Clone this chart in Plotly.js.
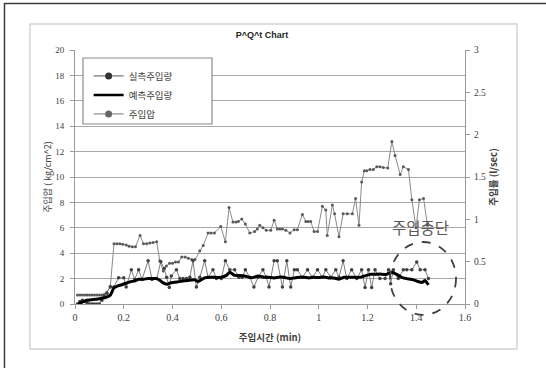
<!DOCTYPE html>
<html>
<head>
<meta charset="utf-8">
<script src="https://cdn.plot.ly/plotly-3.0.1.min.js"></script>
<style>
  html, body { margin: 0; padding: 0; background: #ffffff; }
  #chart { width: 546px; height: 368px; }
</style>
</head>
<body>
<div id="chart"></div>
<script>
// ---- Data ----
// Injection pressure (left axis, kg/cm^2)
const pressureTime = [0.01,0.02,0.03,0.04,0.05,0.06,0.07,0.08,0.09,0.10,0.11,0.12,0.13,0.145,0.16,0.172,0.184,0.196,0.21,0.222,0.235,0.248,0.267,0.281,0.294,0.307,0.32,0.335,0.348,0.362,0.375,0.388,0.40,0.412,0.424,0.438,0.452,0.465,0.479,0.492,0.512,0.526,0.546,0.558,0.572,0.598,0.617,0.632,0.648,0.66,0.67,0.684,0.699,0.717,0.737,0.748,0.758,0.771,0.785,0.803,0.817,0.83,0.84,0.851,0.865,0.882,0.899,0.912,0.933,0.947,0.957,0.967,0.981,0.995,1.015,1.029,1.035,1.056,1.065,1.083,1.10,1.117,1.138,1.151,1.165,1.176,1.187,1.197,1.21,1.224,1.238,1.251,1.265,1.283,1.30,1.313,1.334,1.347,1.368,1.382,1.399,1.413,1.43,1.446];
const pressure = [0.7,0.7,0.7,0.7,0.7,0.7,0.7,0.7,0.7,0.7,0.7,0.75,0.9,1.4,4.75,4.75,4.75,4.7,4.65,4.55,4.5,4.5,5.4,4.75,4.75,4.8,4.85,4.9,3.4,2.6,3.0,3.2,3.2,3.3,3.3,3.7,3.7,3.6,3.5,3.5,4.2,4.6,5.6,5.6,5.6,6.1,4.9,7.6,6.45,6.45,6.5,6.7,6.3,5.6,5.7,5.9,6.2,6.0,5.8,5.8,6.6,5.9,5.9,5.9,5.8,5.6,5.85,5.85,7.05,6.5,6.5,6.5,5.7,5.7,7.7,7.4,5.4,7.8,7.1,5.3,7.1,7.1,7.1,8.3,6.2,9.6,10.5,10.5,10.6,10.6,10.8,10.8,10.75,10.7,12.8,11.7,10.2,10.8,10.6,8.2,6.0,8.2,8.3,6.2];

// Measured injection rate (right axis, l/sec)
const flowTime = [0.01,0.02,0.03,0.04,0.05,0.06,0.07,0.08,0.09,0.10,0.11,0.12,0.131,0.145,0.159,0.179,0.20,0.21,0.231,0.245,0.261,0.275,0.30,0.316,0.335,0.352,0.366,0.376,0.387,0.395,0.416,0.43,0.443,0.457,0.471,0.484,0.498,0.512,0.532,0.546,0.566,0.58,0.60,0.617,0.635,0.655,0.672,0.686,0.699,0.717,0.734,0.751,0.771,0.785,0.796,0.817,0.83,0.851,0.869,0.885,0.90,0.912,0.933,0.954,0.974,0.995,1.015,1.029,1.049,1.07,1.083,1.10,1.115,1.135,1.156,1.176,1.19,1.204,1.217,1.231,1.251,1.272,1.286,1.295,1.306,1.326,1.347,1.361,1.382,1.402,1.416,1.436,1.45];
const flowMeasured = [0,0.03,0.045,0.03,0.015,0,0,0,0,0,0.045,0.09,0.128,0.2,0.2,0.31,0.31,0.2,0.405,0.29,0.405,0.29,0.51,0.29,0.3,0.5,0.42,0.315,0.195,0.33,0.405,0.3,0.3,0.3,0.315,0.51,0.2,0.315,0.51,0.315,0.405,0.3,0.3,0.51,0.405,0.405,0.315,0.315,0.405,0.315,0.2,0.315,0.405,0.315,0.2,0.51,0.51,0.2,0.51,0.2,0.405,0.405,0.315,0.405,0.315,0.405,0.315,0.405,0.315,0.405,0.315,0.51,0.3,0.405,0.3,0.405,0.195,0.405,0.195,0.405,0.3,0.3,0.405,0.24,0.405,0.3,0.405,0.405,0.405,0.495,0.405,0.405,0.3];

// Predicted injection rate (right axis, l/sec)
const predTime = [0.012,0.03,0.048,0.075,0.10,0.124,0.145,0.159,0.178,0.19,0.212,0.227,0.246,0.261,0.28,0.301,0.316,0.335,0.349,0.36,0.378,0.39,0.409,0.436,0.464,0.491,0.505,0.532,0.559,0.60,0.621,0.635,0.655,0.676,0.697,0.724,0.751,0.776,0.792,0.817,0.84,0.858,0.88,0.899,0.92,0.94,0.96,0.981,1.0,1.022,1.04,1.063,1.083,1.104,1.128,1.145,1.169,1.186,1.21,1.23,1.25,1.278,1.30,1.319,1.34,1.361,1.388,1.41,1.425,1.436,1.45];
const flowPredicted = [0,0.023,0.045,0.053,0.063,0.075,0.105,0.188,0.218,0.225,0.248,0.263,0.273,0.293,0.293,0.3,0.3,0.3,0.278,0.252,0.233,0.248,0.258,0.27,0.278,0.285,0.266,0.309,0.315,0.315,0.338,0.375,0.338,0.338,0.33,0.309,0.33,0.315,0.315,0.308,0.318,0.315,0.3,0.308,0.315,0.315,0.308,0.315,0.312,0.318,0.308,0.308,0.293,0.315,0.315,0.315,0.315,0.33,0.35,0.35,0.353,0.35,0.375,0.35,0.315,0.3,0.285,0.263,0.255,0.278,0.225];

const seriesNames = ['실측주입량', '예측주입량', '주입압'];

// ---- Styling ----
const CJK = 'Noto Sans CJK KR, Noto Sans, sans-serif';
const NUM = 'Liberation Serif, DejaVu Serif, serif';
const axisGray = '#9a9a9a';

const traces = [
  // real data traces
  { x: pressureTime, y: pressure, yaxis: 'y', type: 'scatter', mode: 'lines+markers',
    line: { color: '#8a8a8a', width: 1 }, marker: { color: '#5a5a5a', size: 3 },
    name: seriesNames[2], showlegend: false },
  { x: flowTime, y: flowMeasured, yaxis: 'y2', type: 'scatter', mode: 'lines+markers',
    line: { color: '#7f7f7f', width: 1 }, marker: { color: '#404040', size: 3.5 },
    name: seriesNames[0], showlegend: false },
  { x: predTime, y: flowPredicted, yaxis: 'y2', type: 'scatter', mode: 'lines',
    line: { color: '#000000', width: 3, shape: 'spline', smoothing: 0.4 },
    name: seriesNames[1], showlegend: false },
  // legend entries
  { x: [null], y: [null], type: 'scatter', mode: 'lines+markers', name: seriesNames[0],
    line: { color: '#555555', width: 1 }, marker: { color: '#333333', size: 7 } },
  { x: [null], y: [null], type: 'scatter', mode: 'lines', name: seriesNames[1],
    line: { color: '#000000', width: 2.5 } },
  { x: [null], y: [null], type: 'scatter', mode: 'lines+markers', name: seriesNames[2],
    line: { color: '#777777', width: 1 }, marker: { color: '#666666', size: 7 } }
];

const layout = {
  width: 546, height: 368,
  margin: { l: 75, r: 81, t: 50, b: 64, pad: 0 },
  paper_bgcolor: '#ffffff', plot_bgcolor: '#ffffff',
  font: { family: NUM, size: 10, color: '#404040' },
  title: { text: '<b>P^Q^t Chart</b>', font: { family: 'Liberation Sans, Arial, sans-serif', size: 9, color: '#262626' },
           x: 0.48, xref: 'container', xanchor: 'center', y: 0.905, yref: 'container', yanchor: 'middle' },
  xaxis: {
    range: [0, 1.6], dtick: 0.2, tick0: 0, showgrid: false, zeroline: false,
    showline: true, linecolor: axisGray, linewidth: 1,
    ticks: 'outside', ticklen: 4, tickcolor: axisGray,
    tickfont: { family: NUM, size: 10, color: '#404040' },
    title: { text: '<b>주입시간 (min)</b>', font: { family: CJK, size: 9.5, color: '#404040' }, standoff: 12 }
  },
  yaxis: {
    range: [0, 20], dtick: 2, tick0: 0, showgrid: true, gridcolor: '#a8a8a8', gridwidth: 1,
    zeroline: false, showline: true, linecolor: axisGray, linewidth: 1,
    ticks: 'outside', ticklen: 4, tickcolor: axisGray, ticklabelstandoff: 4,
    tickfont: { family: NUM, size: 9, color: '#404040' },
    title: { text: '주입압 ( kg/cm^2)', font: { family: CJK, size: 9, color: '#3a3a3a' }, standoff: 2 }
  },
  yaxis2: {
    overlaying: 'y', side: 'right', range: [0, 3], dtick: 0.5, tick0: 0,
    showgrid: false, zeroline: false, showline: true, linecolor: axisGray, linewidth: 1,
    ticks: 'outside', ticklen: 4, tickcolor: axisGray, ticklabelstandoff: 2,
    tickfont: { family: NUM, size: 9.5, color: '#404040' },
    title: { text: '<b>주입률 (l/sec)</b>', font: { family: CJK, size: 9.5, color: '#404040' }, standoff: 5 }
  },
  showlegend: true,
  legend: {
    x: 0.035, y: 0.955, xanchor: 'left', yanchor: 'top',
    bgcolor: 'rgba(0,0,0,0)', borderwidth: 0,
    font: { family: CJK, size: 9.5, color: '#404040' },
    tracegroupgap: 0
  },
  shapes: [
    // outer frame (top and left edges visible)
    { type: 'rect', xref: 'paper', yref: 'paper', x0: -0.1808, x1: 1.25, y0: -0.3, y1: 1.183,
      line: { color: '#3c3c3c', width: 1.5 }, fillcolor: 'rgba(0,0,0,0)', layer: 'below' },
    // chart area frame
    { type: 'rect', xref: 'paper', yref: 'paper', x0: -0.1154, x1: 1.1333, y0: -0.177, y1: 1.1024,
      line: { color: '#d4d4d4', width: 1.5 }, fillcolor: 'rgba(0,0,0,0)', layer: 'below' },
    // legend box
    { type: 'rect', xref: 'paper', yref: 'paper', x0: 0.0205, x1: 0.3513, y0: 0.7087, y1: 0.9685,
      line: { color: '#8a8a8a', width: 1.2 }, fillcolor: '#ffffff', layer: 'above' },
    // dashed circle marking the stop
    { type: 'circle', xref: 'paper', yref: 'paper', x0: 0.808, x1: 0.977, y0: -0.043, y1: 0.244,
      line: { color: '#404040', width: 1.8, dash: 'dash' }, fillcolor: 'rgba(0,0,0,0)', layer: 'above' }
  ],
  annotations: [
    { text: '주입중단', xref: 'paper', yref: 'paper', x: 0.887, y: 0.303,
      xanchor: 'center', yanchor: 'middle', showarrow: false,
      font: { family: CJK, size: 15.5, color: '#595959' } }
  ]
};

Plotly.newPlot('chart', traces, layout, { displayModeBar: false, staticPlot: true });
</script>
</body>
</html>
